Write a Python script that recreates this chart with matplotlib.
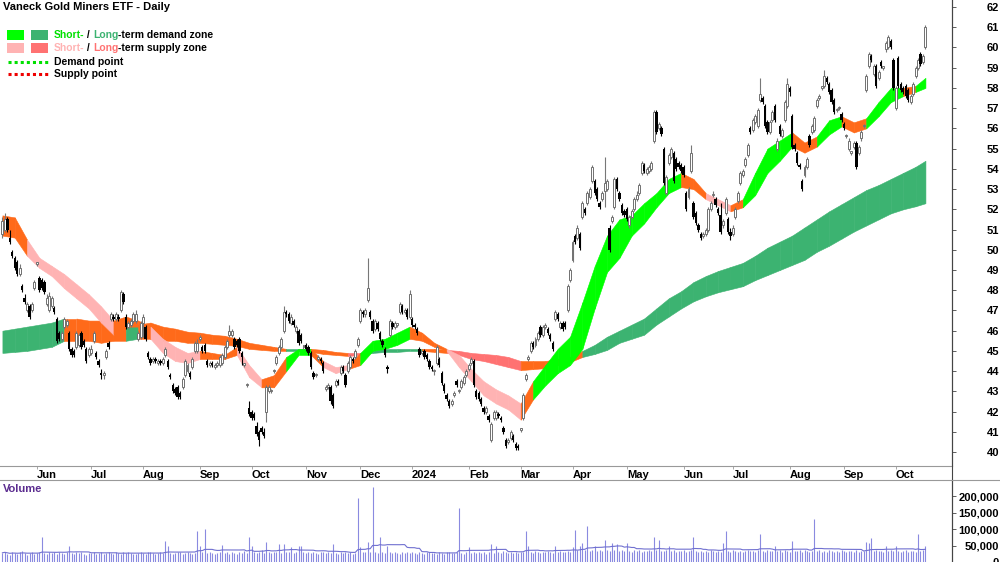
import numpy as np
import pandas as pd
import matplotlib
matplotlib.use('Agg')
import matplotlib.pyplot as plt
from matplotlib.patches import Rectangle
from matplotlib.lines import Line2D

# daily bars, Vaneck Gold Miners ETF (ASX)
dates = pd.bdate_range('2023-05-12', '2024-10-17')

opens = [
    50.8, 51.0, 51.5, 50.6, 49.9, 49.6, 49.4, 48.8, 48.2, 47.6,
    47.0, 47.2, 47.0, 48.1, 49.3, 48.6, 48.5, 48.4, 47.3, 47.0,
    47.2, 47.1, 46.6, 45.9, 45.6, 46.2, 46.3, 45.9, 45.1, 45.0,
    45.2, 45.3, 45.9, 45.5, 45.1, 44.8, 44.9, 45.5, 44.9, 44.5,
    43.9, 43.8, 44.7, 45.4, 46.6, 46.7, 46.6, 46.7, 47.0, 47.8,
    46.7, 46.2, 46.3, 46.5, 46.5, 45.6, 45.7, 46.4, 46.2, 44.9,
    44.6, 44.5, 44.6, 44.4, 44.5, 44.4, 44.8, 44.5, 43.8, 43.3,
    43.1, 43.2, 42.9, 43.2, 43.8, 44.0, 43.9, 44.2, 45.0, 45.0,
    45.6, 45.2, 45.3, 44.5, 44.3, 44.4, 44.2, 44.3, 44.3, 44.4,
    44.7, 45.2, 45.8, 45.8, 45.6, 45.5, 45.6, 44.9, 44.3, 43.3,
    42.2, 42.0, 41.9, 41.3, 41.0, 41.2, 41.0, 42.0, 43.0, 43.0,
    44.0, 44.4, 44.9, 45.2, 46.0, 46.9, 46.8, 46.4, 46.5, 46.0,
    46.0, 45.8, 45.2, 45.3, 45.2, 44.9, 43.9, 43.8, 44.6, 44.6,
    44.4, 43.1, 43.2, 43.2, 42.8, 43.3, 43.5, 43.9, 44.2, 43.8,
    44.0, 44.2, 44.6, 44.7, 45.3, 46.5, 46.9, 46.8, 47.5, 46.9,
    46.5, 46.1, 46.4, 45.9, 45.5, 45.1, 44.2, 45.8, 46.4, 46.2,
    46.3, 46.9, 47.2, 46.9, 47.0, 46.7, 46.6, 46.3, 46.1, 45.1,
    44.9, 45.0, 44.8, 44.5, 44.2, 44.0, 44.4, 44.6, 43.9, 43.3,
    42.8, 42.5, 42.4, 42.8, 43.5, 43.0, 43.2, 43.4, 43.8, 44.1,
    44.4, 44.5, 43.0, 42.9, 42.6, 42.2, 42.0, 41.8, 40.6, 41.7,
    41.7, 41.9, 41.7, 41.2, 40.6, 40.5, 40.7, 40.8, 40.4, 40.3,
    41.1, 41.7, 43.6, 44.6, 45.0, 45.4, 45.3, 45.6, 46.2, 45.8,
    46.2, 46.1, 45.8, 45.4, 46.6, 46.8, 46.2, 46.4, 46.4, 47.0,
    48.5, 49.5, 50.7, 50.6, 50.8, 51.6, 52.0, 52.3, 52.6, 53.4,
    53.4, 53.0, 52.3, 52.5, 52.9, 53.0, 51.1, 51.4, 52.1, 53.5,
    52.8, 52.2, 51.9, 52.0, 51.2, 51.6, 52.0, 52.5, 52.8, 53.8,
    54.2, 53.8, 53.9, 54.0, 55.4, 56.8, 56.0, 56.0, 55.0, 52.8,
    54.3, 54.6, 54.8, 54.5, 54.3, 54.2, 54.1, 52.8, 52.6, 53.9,
    52.3, 51.8, 51.2, 50.8, 50.7, 50.8, 51.0, 52.0, 52.7, 52.5,
    52.0, 51.7, 51.2, 51.8, 51.5, 50.9, 50.8, 51.6, 52.4, 53.3,
    53.7, 54.2, 54.7, 56.0, 55.9, 56.3, 56.1, 57.4, 57.5, 57.1,
    56.3, 55.8, 56.4, 57.1, 55.0, 56.1, 55.6, 56.4, 57.1, 58.0,
    56.6, 55.2, 54.8, 54.2, 53.4, 53.7, 54.1, 55.6, 55.8, 55.9,
    57.1, 57.5, 58.0, 58.1, 58.5, 58.2, 57.9, 57.4, 56.9, 57.0,
    56.7, 56.2, 55.6, 55.0, 54.8, 55.1, 55.3, 54.8, 55.5, 56.1,
    57.9, 59.1, 59.6, 58.7, 59.1, 58.5, 59.3, 59.0, 59.9, 60.0,
    60.3, 59.4, 57.0, 59.5, 58.2, 58.0, 58.1, 57.9, 57.3, 57.7,
    58.6, 59.0, 59.7, 59.3, 60.0,
]

highs = [
    51.6, 51.8, 51.6, 51.0, 50.0, 49.7, 49.5, 49.3, 48.3, 47.8,
    47.4, 47.3, 47.4, 48.5, 49.4, 48.7, 48.6, 48.5, 47.8, 47.9,
    47.7, 47.2, 46.7, 46.0, 46.0, 46.7, 46.6, 46.0, 45.2, 45.1,
    46.0, 45.9, 46.0, 45.6, 45.2, 45.2, 45.3, 46.0, 45.0, 44.6,
    44.1, 44.0, 45.1, 45.5, 46.9, 46.8, 46.9, 46.8, 48.0, 47.9,
    46.8, 46.5, 46.6, 46.9, 47.0, 46.0, 46.5, 46.8, 46.3, 45.0,
    44.7, 44.7, 44.7, 44.6, 44.6, 44.7, 45.2, 44.6, 43.9, 43.4,
    43.2, 43.3, 43.0, 43.7, 44.6, 44.4, 44.0, 44.7, 45.5, 45.6,
    45.8, 45.3, 45.4, 44.6, 44.5, 44.5, 44.4, 44.5, 44.8, 44.9,
    45.3, 45.6, 46.3, 46.1, 45.7, 45.6, 45.7, 45.0, 44.4, 43.4,
    42.5, 42.1, 42.0, 41.5, 41.1, 41.3, 41.2, 43.3, 43.3, 43.1,
    44.1, 44.8, 45.3, 45.7, 47.2, 47.0, 46.9, 46.8, 46.6, 46.3,
    46.1, 45.9, 45.3, 45.4, 45.3, 45.0, 44.0, 43.9, 44.8, 44.7,
    44.5, 43.3, 43.4, 43.3, 42.9, 43.6, 43.6, 44.3, 44.3, 43.9,
    44.5, 44.8, 44.7, 45.1, 45.7, 47.1, 47.0, 47.1, 49.6, 47.0,
    46.6, 46.6, 46.5, 46.0, 45.6, 45.2, 44.3, 46.6, 46.5, 46.5,
    46.4, 47.4, 47.3, 47.1, 47.1, 48.0, 46.7, 46.4, 46.2, 45.2,
    45.0, 45.1, 44.9, 44.6, 44.3, 44.1, 45.3, 44.7, 44.0, 43.4,
    42.9, 42.6, 42.6, 43.0, 43.6, 43.1, 43.6, 43.8, 44.1, 44.4,
    44.7, 44.6, 43.1, 43.0, 42.7, 42.3, 42.3, 41.9, 41.5, 42.1,
    42.1, 42.0, 41.8, 41.3, 40.7, 40.7, 41.1, 40.9, 40.5, 40.4,
    41.2, 42.9, 43.9, 44.8, 45.5, 45.5, 45.7, 46.0, 46.3, 46.3,
    46.4, 46.2, 45.9, 45.5, 47.0, 46.9, 46.5, 46.5, 46.5, 48.3,
    49.1, 50.5, 50.8, 51.2, 50.9, 52.4, 52.1, 52.9, 53.1, 54.2,
    53.5, 53.1, 52.4, 52.9, 54.6, 53.5, 51.2, 51.7, 53.6, 53.6,
    52.9, 52.3, 52.0, 52.1, 51.7, 52.0, 52.6, 52.9, 53.3, 54.4,
    54.3, 54.1, 54.2, 54.4, 56.9, 56.9, 56.3, 56.1, 55.1, 53.7,
    54.8, 55.1, 54.9, 54.6, 54.4, 54.3, 54.2, 52.9, 53.1, 55.2,
    52.4, 51.9, 51.3, 50.9, 50.9, 51.1, 52.1, 52.4, 52.9, 52.6,
    52.1, 52.3, 51.5, 52.6, 51.6, 51.1, 51.2, 52.1, 52.9, 53.9,
    54.0, 54.6, 55.3, 56.1, 56.5, 56.7, 57.0, 58.5, 57.6, 57.2,
    56.4, 56.4, 56.9, 57.2, 55.5, 56.2, 56.0, 57.4, 58.5, 58.1,
    56.7, 55.3, 54.9, 54.3, 53.5, 54.2, 54.6, 55.7, 56.2, 56.6,
    57.5, 57.7, 58.1, 58.9, 58.6, 58.3, 58.0, 57.5, 57.0, 57.1,
    56.8, 56.3, 55.7, 55.5, 54.9, 55.4, 55.4, 55.2, 55.9, 56.2,
    58.7, 59.8, 59.7, 59.2, 59.2, 58.9, 59.4, 59.1, 60.3, 60.6,
    60.4, 59.5, 58.1, 59.6, 58.3, 58.1, 58.2, 58.0, 57.7, 58.3,
    59.1, 59.5, 59.8, 59.7, 61.1,
]

lows = [
    50.6, 50.9, 50.9, 50.3, 49.6, 49.0, 48.7, 48.7, 47.9, 47.3,
    46.9, 46.6, 46.9, 48.0, 49.2, 47.9, 48.0, 47.8, 47.2, 46.9,
    47.1, 46.8, 45.4, 45.5, 45.5, 46.1, 46.2, 45.0, 44.7, 44.7,
    45.1, 45.2, 45.1, 45.2, 44.4, 44.7, 44.8, 45.4, 44.6, 44.2,
    43.6, 43.6, 44.6, 45.1, 46.5, 46.5, 46.5, 46.5, 46.9, 47.3,
    46.1, 46.1, 46.2, 46.4, 46.4, 45.5, 45.6, 45.7, 45.5, 44.6,
    44.3, 44.4, 44.4, 44.3, 44.3, 44.3, 44.7, 44.1, 43.6, 42.9,
    42.8, 42.6, 42.6, 43.1, 43.7, 43.9, 43.6, 44.1, 44.9, 44.9,
    45.5, 44.9, 44.9, 44.2, 44.2, 44.2, 44.1, 44.2, 44.2, 44.3,
    44.6, 45.1, 45.7, 45.7, 45.1, 45.2, 44.9, 44.3, 44.2, 43.2,
    41.8, 41.6, 41.6, 40.8, 40.3, 40.9, 40.7, 41.5, 42.9, 42.9,
    43.9, 44.3, 44.8, 45.1, 45.9, 46.7, 46.4, 46.3, 46.2, 45.9,
    45.3, 45.4, 45.1, 45.0, 44.8, 44.1, 43.6, 43.7, 44.5, 44.4,
    43.9, 43.0, 43.1, 42.4, 42.2, 43.2, 43.3, 43.8, 43.9, 43.2,
    43.9, 44.1, 44.4, 44.6, 45.2, 46.4, 46.7, 46.7, 47.4, 46.6,
    45.9, 46.0, 46.0, 45.5, 45.2, 44.7, 43.9, 45.7, 46.1, 46.1,
    46.2, 46.8, 46.8, 46.8, 46.6, 46.6, 46.2, 46.1, 45.8, 44.7,
    44.8, 44.6, 44.5, 44.1, 44.0, 43.8, 44.3, 44.2, 43.3, 42.9,
    42.5, 42.2, 42.3, 42.7, 43.2, 42.9, 43.1, 43.3, 43.7, 44.0,
    44.3, 43.2, 42.6, 42.5, 42.3, 41.9, 41.9, 41.5, 40.5, 41.6,
    41.6, 41.7, 41.5, 40.9, 40.2, 40.4, 40.6, 40.5, 40.1, 40.1,
    41.0, 41.6, 43.5, 44.5, 44.9, 45.1, 45.2, 45.5, 45.7, 45.7,
    46.1, 45.8, 45.5, 45.0, 46.5, 46.5, 46.1, 46.0, 46.1, 46.9,
    48.4, 49.4, 50.3, 50.5, 50.0, 51.5, 51.7, 52.2, 52.5, 53.3,
    52.7, 52.4, 52.0, 52.4, 52.1, 52.9, 49.9, 51.3, 52.0, 52.9,
    52.4, 51.7, 51.6, 51.4, 51.1, 51.5, 51.9, 52.4, 52.7, 53.7,
    53.8, 53.7, 53.8, 53.9, 55.3, 55.7, 55.9, 55.6, 53.2, 52.7,
    54.2, 54.5, 53.3, 53.9, 54.0, 53.8, 53.6, 51.9, 52.5, 53.8,
    51.5, 51.2, 50.9, 50.5, 50.6, 50.7, 50.9, 51.9, 52.6, 52.1,
    51.7, 50.8, 51.1, 51.7, 50.8, 50.5, 50.7, 51.5, 52.3, 53.2,
    53.6, 54.1, 54.6, 55.7, 55.8, 56.2, 56.0, 57.3, 57.2, 56.0,
    55.7, 55.7, 56.3, 56.3, 54.9, 55.6, 55.5, 56.3, 57.0, 57.6,
    55.0, 54.9, 54.2, 54.0, 52.9, 53.6, 54.0, 55.1, 55.7, 55.8,
    57.0, 57.4, 57.9, 58.0, 58.2, 57.7, 57.2, 56.7, 56.8, 56.9,
    56.3, 55.9, 55.5, 54.9, 54.7, 55.0, 54.0, 54.7, 55.4, 56.0,
    57.8, 59.0, 59.3, 58.6, 58.0, 58.4, 59.0, 58.9, 59.8, 59.9,
    59.9, 57.9, 56.9, 58.0, 57.8, 57.7, 57.5, 57.3, 57.2, 57.6,
    58.5, 58.9, 59.1, 59.2, 59.9,
]

closes = [
    51.4, 51.5, 51.0, 50.4, 49.7, 49.1, 48.8, 49.1, 48.0, 47.4,
    47.3, 46.7, 47.3, 48.4, 49.3, 48.0, 48.1, 47.9, 47.6, 47.7,
    47.6, 46.9, 45.5, 45.6, 45.9, 46.6, 46.5, 45.1, 44.8, 44.8,
    45.9, 45.8, 45.2, 45.3, 44.5, 45.1, 45.1, 45.9, 44.7, 44.3,
    43.8, 43.9, 45.0, 45.2, 46.8, 46.6, 46.8, 46.6, 47.9, 47.4,
    46.2, 46.4, 46.5, 46.8, 46.8, 45.9, 46.4, 46.7, 45.6, 44.7,
    44.4, 44.6, 44.5, 44.5, 44.4, 44.6, 45.1, 44.2, 43.7, 43.0,
    42.9, 42.7, 42.7, 43.6, 44.5, 44.3, 43.7, 44.6, 45.4, 45.4,
    45.6, 45.0, 45.0, 44.3, 44.4, 44.3, 44.3, 44.4, 44.7, 44.8,
    45.2, 45.5, 46.0, 46.0, 45.2, 45.3, 45.0, 44.7, 44.3, 43.3,
    41.9, 41.7, 41.7, 40.9, 40.6, 41.0, 40.8, 43.2, 43.2, 43.0,
    44.0, 44.7, 45.2, 45.6, 46.9, 46.8, 46.5, 46.7, 46.3, 46.2,
    45.4, 45.5, 45.2, 45.1, 44.9, 44.2, 43.7, 43.8, 44.7, 44.5,
    44.0, 43.2, 43.3, 42.5, 42.3, 43.5, 43.4, 44.2, 44.0, 43.3,
    44.4, 44.7, 44.5, 45.0, 45.6, 47.0, 46.8, 47.0, 48.1, 46.7,
    46.0, 46.5, 46.1, 45.6, 45.3, 44.8, 44.1, 46.5, 46.2, 46.4,
    46.3, 47.3, 46.9, 47.0, 46.7, 47.8, 46.3, 46.2, 45.9, 44.8,
    44.9, 44.7, 44.6, 44.2, 44.1, 44.0, 45.2, 44.3, 43.4, 43.0,
    42.6, 42.3, 42.5, 42.9, 43.3, 43.0, 43.5, 43.7, 44.0, 44.3,
    44.6, 43.3, 42.7, 42.6, 42.4, 42.0, 42.2, 41.6, 41.4, 42.0,
    42.0, 41.8, 41.6, 41.0, 40.3, 40.6, 41.0, 40.6, 40.2, 40.2,
    41.1, 42.8, 43.8, 44.6, 45.4, 45.2, 45.6, 45.9, 45.8, 46.2,
    46.3, 45.9, 45.6, 45.1, 46.9, 46.6, 46.4, 46.1, 46.2, 48.2,
    49.0, 50.4, 50.4, 51.1, 50.1, 52.3, 51.8, 52.8, 53.0, 54.1,
    52.8, 52.5, 52.1, 52.8, 53.3, 53.4, 50.0, 51.6, 53.5, 53.0,
    52.5, 51.8, 51.7, 51.5, 51.6, 51.9, 52.5, 52.7, 53.2, 54.3,
    53.9, 54.0, 54.1, 54.3, 56.8, 55.8, 56.2, 55.7, 53.3, 53.6,
    54.7, 55.0, 53.4, 54.0, 54.1, 53.9, 53.7, 52.0, 53.0, 54.8,
    51.6, 51.3, 51.0, 50.6, 50.8, 51.0, 52.0, 52.3, 52.7, 52.2,
    51.8, 50.9, 51.4, 52.5, 50.9, 50.7, 51.1, 52.0, 52.8, 53.8,
    53.9, 54.5, 55.2, 55.8, 56.4, 56.6, 56.9, 57.7, 57.3, 56.1,
    55.8, 56.3, 56.8, 56.4, 55.4, 55.7, 55.9, 57.3, 58.2, 57.8,
    55.1, 55.0, 54.3, 54.1, 53.0, 54.1, 54.5, 55.2, 56.1, 56.5,
    57.4, 57.6, 58.0, 58.6, 58.3, 57.8, 57.3, 56.8, 56.9, 57.0,
    56.4, 56.0, 55.6, 55.4, 54.8, 55.3, 54.1, 55.1, 55.8, 56.1,
    58.6, 59.7, 59.4, 59.1, 58.1, 58.8, 59.1, 59.0, 60.2, 60.5,
    60.0, 58.0, 58.0, 58.1, 57.9, 57.8, 57.6, 57.4, 57.6, 58.2,
    59.0, 59.4, 59.2, 59.6, 61.0,
]

# volume in thousands of units
volume_k = [
    28, 31, 25, 22, 30, 27, 24, 29, 33, 26, 21, 27, 30, 25, 28,
    32, 76, 27, 24, 30, 26, 29, 23, 31, 28, 25, 30, 50, 26, 24,
    29, 27, 31, 25, 22, 28, 26, 30, 24, 27, 29, 23, 26, 31, 28,
    25, 30, 27, 24, 29, 26, 32, 28, 25, 23, 27, 30, 26, 24, 29,
    31, 27, 25, 28, 30, 26, 65, 50, 28, 24, 27, 31, 29, 25, 26,
    30, 27, 24, 28, 94, 48, 29, 100, 26, 31, 27, 24, 28, 30, 51,
    26, 29, 25, 31, 27, 24, 30, 28, 33, 26, 76, 50, 29, 27, 31,
    38, 28, 62, 30, 26, 29, 31, 55, 27, 55, 30, 32, 45, 28, 30,
    48, 48, 29, 26, 31, 27, 30, 28, 25, 32, 29, 26, 30, 27, 55,
    28, 25, 30, 27, 31, 26, 29, 24, 28, 194, 45, 32, 30, 62, 29,
    229, 31, 28, 76, 30, 27, 50, 29, 26, 31, 28, 25, 30, 27, 29,
    26, 31, 28, 24, 30, 27, 25, 29, 32, 26, 28, 24, 30, 27, 25,
    29, 31, 26, 28, 30, 165, 27, 25, 29, 45, 28, 31, 26, 30, 27,
    29, 25, 31, 55, 28, 50, 30, 27, 33, 29, 26, 31, 28, 30, 27,
    32, 29, 94, 50, 31, 28, 33, 30, 27, 32, 29, 34, 31, 28, 50,
    30, 33, 29, 31, 35, 32, 45, 97, 38, 50, 57, 36, 109, 34, 37,
    50, 35, 38, 33, 67, 36, 34, 57, 37, 55, 33, 36, 34, 57, 35,
    32, 37, 34, 36, 31, 35, 33, 38, 34, 76, 36, 67, 33, 35, 37,
    50, 34, 36, 32, 35, 33, 37, 31, 34, 36, 76, 33, 30, 35, 32,
    34, 31, 36, 33, 30, 35, 32, 59, 94, 34, 31, 36, 33, 30, 35,
    32, 34, 37, 33, 35, 31, 36, 84, 34, 32, 37, 33, 35, 50, 34,
    36, 32, 38, 34, 31, 65, 35, 33, 37, 32, 36, 34, 31, 35, 130,
    33, 36, 32, 35, 31, 37, 33, 30, 35, 32, 36, 34, 31, 35, 33,
    30, 36, 32, 35, 33, 62, 57, 73, 34, 37, 33, 35, 31, 50, 34,
    36, 33, 50, 35, 31, 34, 37, 32, 35, 33, 31, 86, 34, 36, 48,
]

# zone edges, read every 5th bar
zone_bars = list(range(0, 371, 5)) + [374]
st_top = [
    51.7, 51.6, 50.5, 49.6, 49.2, 48.8, 48.3, 47.8, 47.2, 46.5,
    46.7, 46.5, 46.2, 45.6, 45.2, 44.9, 45.0, 44.9, 44.8, 45.2,
    44.3, 43.6, 43.8, 44.7, 45.1, 45.1, 44.5, 44.2, 44.3, 44.9,
    45.5, 45.6, 45.9, 46.2, 45.9, 45.4, 45.1, 44.8, 44.1, 43.5,
    43.1, 42.8, 42.4, 43.5, 44.3, 45.1, 45.7, 47.4, 49.2, 50.7,
    51.5, 51.7, 52.3, 52.8, 53.5, 53.8, 53.5, 52.8, 52.5, 52.2,
    52.5, 53.8, 55.0, 55.4, 55.8, 55.3, 55.6, 56.4, 56.6, 56.3,
    56.5, 57.3, 58.0, 58.0, 58.1, 58.5,
]
st_bot = [
    50.7, 50.6, 49.7, 49.1, 48.7, 48.1, 47.6, 47.1, 46.4, 45.8,
    46.2, 46.2, 45.6, 44.9, 44.5, 44.4, 44.6, 44.6, 44.6, 44.8,
    43.7, 43.2, 43.2, 44.0, 44.8, 44.8, 44.2, 43.9, 44.1, 44.3,
    45.0, 45.1, 45.3, 45.6, 45.5, 45.2, 45.0, 44.2, 43.5, 42.8,
    42.4, 42.1, 41.6, 42.6, 43.3, 43.9, 44.3, 45.1, 47.1, 48.9,
    49.6, 50.7, 51.3, 52.1, 52.8, 53.1, 53.0, 52.5, 52.2, 51.9,
    52.1, 52.7, 53.8, 54.4, 55.1, 54.8, 55.1, 55.7, 56.1, 55.8,
    56.0, 56.6, 57.3, 57.6, 57.8, 58.0,
]
st_state = ("OOPPP" "PPPPO" "OOPPP" "POOOP" "POOGG" "OPPOG" "GGGOO" "OPPPP"
            "PPOGG" "GGGGG" "GGGGG" "OOPPO" "GGGGO" "OGGOO" "GGGOG")

lt_top = [
    46.0, 46.1, 46.2, 46.3, 46.4, 46.6, 46.6, 46.5, 46.5, 46.4,
    46.3, 46.3, 46.4, 46.2, 46.1, 45.95, 45.9, 45.8, 45.75, 45.6,
    45.4, 45.3, 45.2, 45.1, 45.1, 45.1, 45.05, 44.95, 44.9, 44.9,
    45.0, 45.1, 45.1, 45.1, 45.1, 45.1, 45.05, 45.0, 44.9, 44.85,
    44.8, 44.7, 44.5, 44.5, 44.5, 44.6, 44.7, 45.0, 45.3, 45.7,
    46.0, 46.3, 46.6, 47.1, 47.6, 47.95, 48.4, 48.7, 48.95, 49.15,
    49.35, 49.7, 50.1, 50.4, 50.7, 51.1, 51.5, 51.9, 52.25, 52.6,
    52.95, 53.2, 53.5, 53.8, 54.1, 54.4,
]
lt_bot = [
    44.9, 44.95, 45.0, 45.1, 45.2, 45.5, 45.5, 45.5, 45.4, 45.5,
    45.5, 45.6, 45.6, 45.5, 45.5, 45.4, 45.4, 45.35, 45.3, 45.25,
    45.1, 45.05, 45.0, 45.0, 45.0, 44.95, 44.85, 44.8, 44.75, 44.8,
    44.9, 44.95, 44.95, 45.0, 45.0, 44.95, 44.9, 44.8, 44.6, 44.5,
    44.35, 44.2, 44.05, 44.1, 44.15, 44.3, 44.45, 44.7, 44.85, 45.05,
    45.4, 45.6, 45.8, 46.3, 46.7, 47.1, 47.45, 47.7, 47.9, 48.05,
    48.2, 48.5, 48.75, 49.0, 49.25, 49.5, 49.9, 50.2, 50.55, 50.9,
    51.2, 51.5, 51.8, 52.0, 52.15, 52.3,
]
lt_state = ("DDDDD" "OOOOO" "DOOOO" "OOOOO" "OOODD" "OOORD" "DDDDO" "ORRRR"
            "RROOO" "OODDD" "DDDDD" "DDDDD" "DDDDD" "DDDDD" "DDDDD")

month_starts = ['2023-06-01', '2023-07-01', '2023-08-01', '2023-09-01', '2023-10-01',
                '2023-11-01', '2023-12-01', '2024-01-01', '2024-02-01', '2024-03-01',
                '2024-04-01', '2024-05-01', '2024-06-01', '2024-07-01', '2024-08-01',
                '2024-09-01', '2024-10-01']
month_labels = ['Jun', 'Jul', 'Aug', 'Sep', 'Oct', 'Nov', 'Dec', '2024', 'Feb', 'Mar',
                'Apr', 'May', 'Jun', 'Jul', 'Aug', 'Sep', 'Oct']
price_ticks = list(range(40, 63))
vol_ticks = [0, 50000, 100000, 150000, 200000]

zone_colors = {'G': '#00FF00', 'P': '#FFB3B3', 'O': '#FF6A1A',
               'D': '#3CB371', 'R': '#FF7272'}

assert len(dates) == len(opens) == len(highs) == len(lows) == len(closes) == len(volume_k)

plt.rcParams['font.family'] = ['Liberation Sans Narrow', 'Liberation Sans', 'DejaVu Sans']
plt.rcParams['font.weight'] = 'bold'
plt.rcParams['font.size'] = 7.5

W, H = 1000, 562
fig = plt.figure(figsize=(W / 100, H / 100), dpi=100)
ax = fig.add_axes([0, 1 - 466 / H, 952 / W, 466 / H])
axv = fig.add_axes([0, 0, 952 / W, 82 / H])

x = np.arange(len(dates))
o = np.array(opens)
c = np.array(closes)
hi = np.array(highs)
lo = np.array(lows)
vol = np.array(volume_k) * 1000.0

# zones: long-term first, short-term on top
zb = np.array(zone_bars)
for top, bot, state, z in [(lt_top, lt_bot, lt_state, 1), (st_top, st_bot, st_state, 2)]:
    top = np.array(top)
    bot = np.array(bot)
    for k in range(len(zb) - 1):
        col = zone_colors[state[k]]
        ax.fill_between(zb[k:k + 2], bot[k:k + 2], top[k:k + 2], facecolor=col,
                        edgecolor=col, lw=0.4, zorder=z)

# candles
up = c >= o
ax.vlines(x[up], lo[up], hi[up], color='#777777', lw=0.8, zorder=3)
ax.vlines(x[~up], lo[~up], hi[~up], color='black', lw=0.8, zorder=3)
body_lo = np.minimum(o, c)
body_h = np.maximum(np.abs(c - o), 0.08)
ax.bar(x[up], body_h[up], bottom=body_lo[up], width=0.8, facecolor='white',
       edgecolor='#707070', lw=0.7, zorder=4)
ax.bar(x[~up], body_h[~up], bottom=body_lo[~up], width=0.95, color='black', lw=0, zorder=4)

# pixel mapping: bar i sits at 2.4 + 2.468*i px
ax.set_xlim(-2.4 / 2.468, (952 - 2.4) / 2.468)
ax.set_ylim(62 - (466 - 7) / 20.23, 62 + 7 / 20.23)
axv.set_xlim(ax.get_xlim())
axv.set_ylim(8824, 250000)

# axes styling
for a in (ax, axv):
    a.spines['left'].set_visible(False)
    a.spines['right'].set_color('#444444')
    a.spines['right'].set_linewidth(0.8)
    a.yaxis.tick_right()
ax.spines['top'].set_visible(False)
ax.spines['bottom'].set_color('#999999')
axv.spines['bottom'].set_visible(False)
axv.spines['top'].set_color('#999999')

ax.set_yticks(price_ticks)
ax.set_yticklabels([str(t) for t in price_ticks])
axv.set_yticks(vol_ticks)
axv.set_yticklabels([f'{t:,}' for t in vol_ticks])
for a in (ax, axv):
    a.tick_params(axis='y', direction='out', length=3, width=0.6, pad=31,
                  colors='#444444', labelcolor='black', labelsize=8)
    for t in a.get_yticklabels():
        t.set_horizontalalignment('right')

tick_pos = [int(np.searchsorted(dates, pd.Timestamp(m))) for m in month_starts]
ax.set_xticks(tick_pos)
ax.set_xticklabels(month_labels)
ax.tick_params(axis='x', direction='out', length=2, width=0.6, pad=1,
               colors='#999999', labelcolor='black', labelsize=8)
for t in ax.get_xticklabels():
    t.set_horizontalalignment('left')
axv.set_xticks([])

# volume
axv.vlines(x, 0, vol, color='#8A8AE0', lw=0.8)
vol_ma = pd.Series(vol).rolling(20, min_periods=1).mean()
axv.plot(x, vol_ma, color='#7070D0', lw=0.8)
fig.text(3 / W, 1 - 489 / H, 'Volume', color='#5B2C8F', fontsize=8,
         fontweight='bold', va='center', ha='left')

# axis line through the date strip
fig.add_artist(Line2D([952 / W, 952 / W], [0, 1], color='#444444', lw=0.8))
fig.add_artist(Line2D([952 / W, 1], [1 - 480 / H, 1 - 480 / H], color='#999999', lw=0.8))

# title and legend
fig.text(3 / W, 1 - 7 / H, 'Vaneck Gold Miners ETF - Daily', fontsize=8,
         fontweight='bold', va='center', ha='left')

renderer = fig.canvas.get_renderer()


def rich_text(x_px, y_px, pieces):
    for s, col in pieces:
        t = fig.text(x_px / W, 1 - y_px / H, s, color=col, fontsize=7.5,
                     fontweight='bold', va='center', ha='left')
        x_px += t.get_window_extent(renderer).width


def swatch(x0, x1, y0, y1, col):
    fig.add_artist(Rectangle((x0 / W, 1 - y1 / H), (x1 - x0) / W, (y1 - y0) / H,
                             transform=fig.transFigure, facecolor=col, edgecolor='none'))


swatch(7, 24, 30, 40, '#00FF00')
swatch(31, 48, 30, 40, '#3CB371')
swatch(7, 24, 43, 53, '#FFB3B3')
swatch(31, 48, 43, 53, '#FF7272')
rich_text(54, 35, [('Short-', '#00E000'), (' / ', 'black'), ('Long', '#3CB371'),
                   ('-term demand zone', 'black')])
rich_text(54, 48, [('Short-', '#FFB3B3'), (' / ', 'black'), ('Long', '#FF7272'),
                   ('-term supply zone', 'black')])
fig.add_artist(Line2D([8 / W, 48 / W], [1 - 62 / H] * 2, color='#00E000', lw=2.2,
                      linestyle=(0, (1, 1))))
fig.add_artist(Line2D([8 / W, 48 / W], [1 - 74 / H] * 2, color='#EE0000', lw=2.2,
                      linestyle=(0, (1, 1))))
rich_text(54, 62, [('Demand point', 'black')])
rich_text(54, 74, [('Supply point', 'black')])

fig.savefig('out.png', dpi=100)
